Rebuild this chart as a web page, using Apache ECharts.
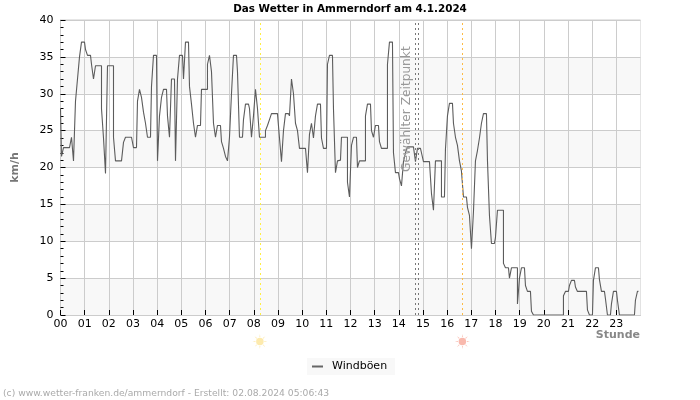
<!DOCTYPE html>
<html><head><meta charset="utf-8">
<style>html,body{margin:0;padding:0;background:#fff}#c{width:700px;height:400px}</style>
<script src="https://cdn.jsdelivr.net/npm/echarts@6/dist/echarts.min.js"></script>
</head><body><div id="c"></div>
<script>
const chartTitle = 'Das Wetter in Ammerndorf am 4.1.2024';
const seriesName = 'Windböen';
const hourLabels = [0,1,2,3,4,5,6,7,8,9,10,11,12,13,14,15,16,17,18,19,20,21,22,23];
const slotHours = 0.08275;
const gusts = [
 28,21.5,22.7,22.7,22.7,22.7,24.1,20.9,29,32,35,37,
 37,36,35.2,35.2,34,32,33.8,33.8,33.8,28,24,19.2,
 33.8,33.8,33.8,24.1,20.9,20.9,20.9,20.9,23.4,24.1,24.1,24.1,
 24.1,22.7,22.7,29,30.6,29.5,27.5,26,24.1,24.1,31,35.2,
 35.2,20.9,27,29.5,30.6,30.6,27,24.1,32,32,20.9,32,
 35.2,35.2,32,37,37,31,28.6,26,24.1,25.7,25.7,30.6,
 30.6,30.6,34,35.2,33,26,24.1,25.7,25.7,23.5,22.6,21.5,
 20.9,24.1,30,35.2,35.2,33,24.1,24.1,26.5,28.6,28.6,28,
 24.1,27,30.6,28,24.1,24.1,24.1,25,25.7,26.5,27.3,27.3,
 27.3,27.3,24,20.8,25,27.3,27.3,27,32,30,26,25,
 22.6,22.6,22.6,22.6,19.3,24.5,26,24,27,28.6,28.6,24,
 22.6,22.6,34,35.2,35.2,28,19.3,20.9,21,24.1,24.1,24.1,
 18,16,23,24.1,24.1,20,20.9,20.9,20.9,27,28.6,28.6,
 25,24.1,25.7,25.7,23.5,22.6,22.6,22.6,34,37,37,22,
 19.3,19.3,18.5,17.5,20.8,22,22.8,22.8,22.8,22.8,20.8,22.6,
 22.6,22,20.8,20.8,20.8,20.8,16.5,14.2,20.9,20.9,20.9,16,
 16,22.5,27,28.7,28.7,26,24.1,23,20.9,19.5,16,16,
 14.6,13.5,9,14,20.9,22.3,24,26,27.3,27.3,21,13.5,
 9.7,9.7,10.5,14.2,14.2,14.2,7,6.4,6.4,5,6.4,6.4,
 6.4,1.5,5,6.4,6.4,4,3.2,3.2,0.5,0,0,0,
 0,0,0,0,0,0,0,0,0,0,0,0,
 2.6,3.2,3.2,4,4.7,4.7,3.8,3.2,3.2,3.2,3.2,3.2,
 0.7,0,0,4.7,6.4,6.4,4.8,3.2,3.2,2.2,0,0,
 1.5,3.2,3.2,2,0,0,0,0,0,0,0,0,
 2,3.2
];
const sunrise = 8.25, sunset = 16.63;
const selectedFrom = 14.67, selectedTo = 14.81;
const sunPath = 'path://M50 25A25 25 0 1 1 49.9 25ZM47 20L50 0L53 20ZM47 80L50 100L53 80ZM20 47L0 50L20 53ZM80 47L100 50L80 53ZM27 31L14 14L31 27ZM73 31L86 14L69 27ZM27 69L14 86L31 73ZM73 69L86 86L69 73Z';
const font = '"DejaVu Sans", sans-serif';

const chart = echarts.init(document.getElementById('c'), null, {renderer:'canvas'});
const vline = (x, color) => ({xAxis:x, lineStyle:{color, type:[2,3], width:1}});
chart.setOption({
  animation:false,
  backgroundColor:'#fff',
  textStyle:{fontFamily:font},
  title:{text:chartTitle,left:'center',top:4,padding:0,
    textStyle:{fontFamily:font,fontSize:10.4,fontWeight:'bold',color:'#000'}},
  grid:{left:60.5,right:59.5,top:20,bottom:85,show:true,borderColor:'#ccc',borderWidth:1,backgroundColor:'transparent'},
  legend:{data:[seriesName],left:307,top:358,padding:[3,8,3,5],itemGap:0,itemWidth:11,itemHeight:2,
    backgroundColor:'#f8f8f8',icon:'rect',
    textStyle:{fontFamily:font,fontSize:11,color:'#000',padding:[0,0,0,4]}},
  xAxis:{type:'value',min:0,max:24,interval:1,
    axisLine:{lineStyle:{color:'#ccc'}},
    axisTick:{inside:true,length:5,lineStyle:{color:'#000'},customValues:hourLabels},
    axisLabel:{customValues:hourLabels,margin:4,fontFamily:font,fontSize:11,color:'#000',
      formatter:v=>String(v).padStart(2,'0')},
    splitLine:{show:true,lineStyle:{color:'#ccc',width:1}}},
  yAxis:{type:'value',min:0,max:40,interval:5,name:'km/h',nameLocation:'middle',nameGap:40,
    nameTextStyle:{fontFamily:font,fontSize:11,fontWeight:'bold',color:'#777'},
    axisLine:{show:true,lineStyle:{color:'#ccc'}},
    axisTick:{show:true,inside:true,length:5,lineStyle:{color:'#000'}},
    minorTick:{show:true,splitNumber:5,length:3,lineStyle:{color:'#000'}},
    axisLabel:{margin:7,fontFamily:font,fontSize:11,color:'#000'},
    splitLine:{show:true,lineStyle:{color:'#ccc',width:1}},
    splitArea:{show:true,areaStyle:{color:['#f8f8f8','#ffffff']}}},
  series:[
   {name:seriesName,type:'line',showSymbol:false,symbol:'none',smooth:false,step:'middle',
    lineStyle:{color:'#5c5c5c',width:1.1},itemStyle:{color:'#666'},
    data:gusts.map((v,i)=>[i*slotHours,v]),
    markLine:{silent:true,symbol:'none',label:{show:false},
      data:[vline(sunrise,'#ffee44'),vline(sunset,'#ffbb44'),vline(selectedFrom,'#777'),vline(selectedTo,'#777')]}},
   {name:'Sonne',type:'scatter',clip:false,silent:true,symbol:sunPath,symbolSize:15,
    data:[{value:[sunrise,-3.6],itemStyle:{color:'#fde598'}},{value:[sunset,-3.6],itemStyle:{color:'#f7a898'}}]}
  ],
  graphic:[
   {type:'text',x:407,y:172,rotation:Math.PI/2,z:100,silent:true,
    style:{text:'Gewählter Zeitpunkt',fill:'#999',font:'12.2px '+font,align:'left',verticalAlign:'middle'}},
   {type:'text',x:640,y:329.5,silent:true,
    style:{text:'Stunde',fill:'#888',font:'bold 11px '+font,align:'right',verticalAlign:'top'}},
   {type:'text',x:3,y:389,silent:true,
    style:{text:'(c) www.wetter-franken.de/ammerndorf - Erstellt: 02.08.2024 05:06:43',fill:'#aaa',font:'9.2px '+font,align:'left',verticalAlign:'top'}}
  ]
});
</script></body></html>
